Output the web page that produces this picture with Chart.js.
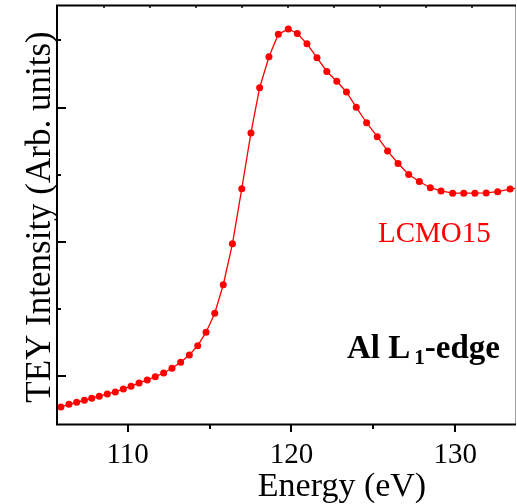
<!DOCTYPE html>
<html>
<head>
<meta charset="utf-8">
<script src="https://cdn.jsdelivr.net/npm/chart.js@4.4.1/dist/chart.umd.min.js"></script>
<style>
  html, body { margin: 0; padding: 0; background: #fff; }
  #wrap { width: 517px; height: 504px; }
</style>
</head>
<body>
<div id="wrap"><canvas id="c" width="517" height="504"></canvas></div>
<script>
// ---- data ----
const energy = [105.93,106.42,106.89,107.36,107.81,108.27,108.76,109.25,109.74,110.21,110.70,111.20,111.69,112.20,112.71,113.24,113.77,114.28,114.79,115.32,115.84,116.40,116.97,117.53,118.06,118.63,119.20,119.81,120.36,120.95,121.56,122.16,122.77,123.36,123.96,124.59,125.24,125.87,126.51,127.16,127.81,128.48,129.13,129.84,130.52,131.20,131.89,132.59,133.35,134.05];
const intensity = [0.769,0.789,0.804,0.819,0.834,0.849,0.866,0.881,0.903,0.923,0.948,0.970,0.995,1.022,1.057,1.102,1.156,1.226,1.326,1.467,1.680,1.985,2.396,2.811,3.148,3.379,3.546,3.586,3.552,3.475,3.372,3.269,3.196,3.116,3.002,2.887,2.783,2.677,2.583,2.501,2.449,2.403,2.379,2.362,2.362,2.362,2.364,2.373,2.393,2.405];
const seriesLabel = "LCMO15";
const xMajorTicks = [110, 120, 130];
const xMinorTicks = [115, 125];
const xTickLabels = ["110", "120", "130"];
const topTicks = [108.56, 111.37, 114.18, 116.99, 119.80, 122.61, 125.42, 128.23, 131.04];
const yMajorTicks = [1, 2, 3];
const yMinorTicks = [1.5, 2.5, 3.5];
const xTitle = "Energy (eV)";
const yTitle = "TEY Intensity (Arb. units)";
const edgeMain = "Al L";
const edgeSub = "1";
const edgeTail = "-edge";

const SERIF = '"Liberation Serif", "Times New Roman", Times, serif';

const decor = {
  id: 'decor',
  afterDraw(chart) {
    const ctx = chart.ctx, a = chart.chartArea, xs = chart.scales.x, ys = chart.scales.y;
    ctx.save();
    // right border (light)
    ctx.strokeStyle = '#a0a0a0'; ctx.lineWidth = 1;
    ctx.beginPath(); ctx.moveTo(a.right - 0.5, a.top - 1); ctx.lineTo(a.right - 0.5, a.bottom + 1); ctx.stroke();
    // black frame
    ctx.strokeStyle = '#000'; ctx.lineWidth = 2;
    ctx.beginPath();
    ctx.moveTo(a.left, a.top - 1.5); ctx.lineTo(a.left, a.bottom + 1.5);
    ctx.moveTo(a.left - 1, a.top - 0.5); ctx.lineTo(a.right, a.top - 0.5);
    ctx.moveTo(a.left - 1, a.bottom + 0.5); ctx.lineTo(a.right, a.bottom + 0.5);
    ctx.stroke();
    // bottom ticks (outward)
    ctx.beginPath();
    xMajorTicks.forEach(v => { const p = Math.round(xs.getPixelForValue(v)); ctx.moveTo(p, a.bottom + 1); ctx.lineTo(p, a.bottom + 8); });
    xMinorTicks.forEach(v => { const p = Math.round(xs.getPixelForValue(v)); ctx.moveTo(p, a.bottom + 1); ctx.lineTo(p, a.bottom + 5); });
    // left ticks (inward)
    yMajorTicks.forEach(v => { const p = Math.round(ys.getPixelForValue(v)); ctx.moveTo(a.left, p); ctx.lineTo(a.left + 9, p); });
    yMinorTicks.forEach(v => { const p = Math.round(ys.getPixelForValue(v)); ctx.moveTo(a.left, p); ctx.lineTo(a.left + 4, p); });
    ctx.stroke();
    // top ticks
    ctx.lineWidth = 1.5;
    ctx.beginPath();
    topTicks.forEach(v => { const p = Math.round(xs.getPixelForValue(v)); ctx.moveTo(p, a.top - 1); ctx.lineTo(p, a.top + 2); });
    ctx.stroke();

    ctx.fillStyle = '#000';
    // x tick labels
    ctx.font = '29px ' + SERIF;
    ctx.textAlign = 'center'; ctx.textBaseline = 'alphabetic';
    xMajorTicks.forEach((v, i) => ctx.fillText(xTickLabels[i], xs.getPixelForValue(v), 463));
    // x title
    ctx.font = '34px ' + SERIF;
    ctx.fillText(xTitle, 342, 496);
    // y title
    ctx.save();
    ctx.translate(50, 217);
    ctx.rotate(-Math.PI / 2);
    ctx.font = '35px ' + SERIF;
    ctx.textAlign = 'center';
    ctx.fillText(yTitle, 0, 0);
    ctx.restore();
    // series label
    ctx.fillStyle = '#ff0000';
    ctx.font = '29px ' + SERIF;
    ctx.textAlign = 'left';
    ctx.fillText(seriesLabel, 378, 242);
    // edge label
    ctx.fillStyle = '#000';
    ctx.font = 'bold 33px ' + SERIF;
    let x0 = 347;
    ctx.fillText(edgeMain, x0, 358);
    x0 += ctx.measureText(edgeMain).width + 4;
    ctx.font = 'bold 21px ' + SERIF;
    ctx.fillText(edgeSub, x0, 364);
    x0 += ctx.measureText(edgeSub).width;
    ctx.font = 'bold 33px ' + SERIF;
    ctx.fillText(edgeTail, x0, 358);
    ctx.restore();
  }
};

new Chart(document.getElementById('c'), {
  type: 'line',
  data: {
    datasets: [{
      label: seriesLabel,
      data: energy.map((e, i) => ({ x: e, y: intensity[i] })),
      borderColor: '#ff0000',
      backgroundColor: '#ff0000',
      borderWidth: 1.3,
      pointRadius: 3.5,
      pointBorderWidth: 0,
      pointBackgroundColor: '#ff0000',
      tension: 0,
      fill: false
    }]
  },
  options: {
    responsive: false,
    animation: false,
    devicePixelRatio: 1,
    layout: { autoPadding: false, padding: { left: 57, top: 6, right: 1, bottom: 80 } },
    plugins: { legend: { display: false }, tooltip: { enabled: false } },
    scales: {
      x: { type: 'linear', display: false, min: 105.69, max: 133.71 },
      y: { type: 'linear', display: false, min: 0.642, max: 3.757 }
    }
  },
  plugins: [decor]
});
</script>
</body>
</html>
